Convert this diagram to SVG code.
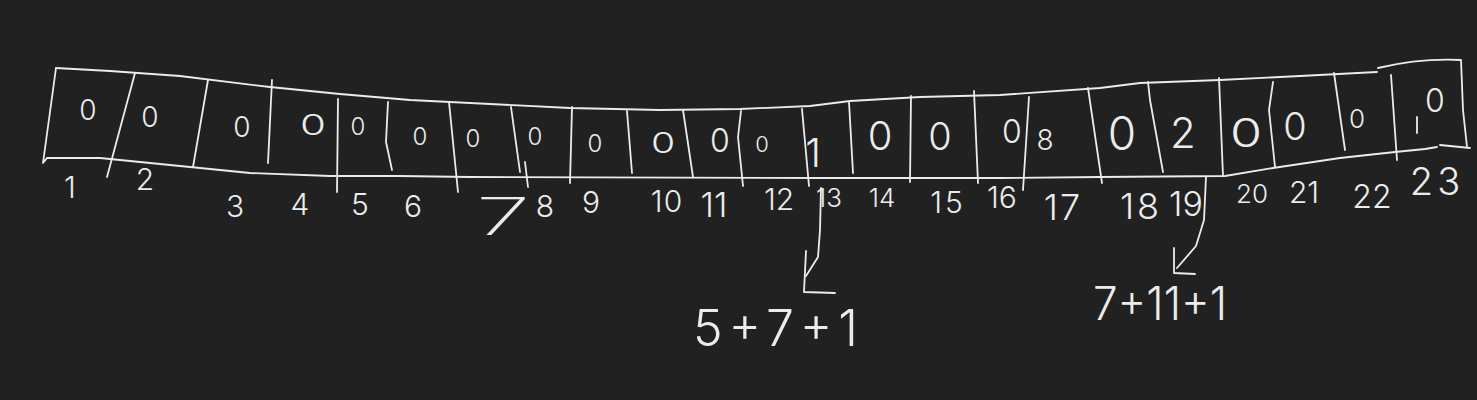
<svg xmlns="http://www.w3.org/2000/svg" width="1477" height="400" viewBox="0 0 1477 400">
<style>
.s{fill:none;stroke:#ececec;stroke-width:1.8;stroke-linecap:round;stroke-linejoin:round}
.v,.i,.e{font-family:Inter,"Liberation Sans",Arial,sans-serif;font-weight:300;fill:#ececec}
.v{text-anchor:middle;font-size:28px}
.i{text-anchor:middle;font-size:30px}
.e{font-size:50px}
</style>
<rect width="1477" height="400" fill="#212121"/>
<g id="array-outline">
<path class="s" d="M56,68 L110,71 L180,76 L270,87 L340,94 L410,100 L470,103 L570,108 L660,110 L740,109 L810,106 L850,101 L920,97 L1000,95 L1100,88 L1140,83 L1220,80 L1300,76 L1377,72"/>
<path class="s" d="M1378,68 Q1420,58 1461,60 L1463,110 L1467,147"/>
<path class="s" d="M1440,145 L1470,148"/>
<path class="s" d="M56,68 L43,163 L47,158 L100,158 L170,165 L250,173 L330,176 L400,176 L470,177 L820,178 L1000,178 L1100,177 L1225,176 L1273,168 L1340,158 L1395,152 L1425,149 L1437,147"/>
</g>
<g id="cell-1"><path class="s" d="M135,73 L107,177"/><text class="v" x="88" y="120">0</text><text class="i" x="70" y="198">1</text></g>
<g id="cell-2"><path class="s" d="M208,80 L193,167"/><text class="v" x="150" y="127">0</text><text class="i" x="145" y="190">2</text></g>
<g id="cell-3"><path class="s" d="M272,80 L268,163"/><text class="v" x="242" y="137">0</text><text class="i" x="235" y="217">3</text></g>
<g id="cell-4"><path class="s" d="M338,99 L337,192"/><text class="v" x="313" y="135" transform="translate(313,0) scale(1.5,1) translate(-313,0)">0</text><text class="i" x="300" y="215">4</text></g>
<g id="cell-5"><path class="s" d="M388,102 L386,142 L392,170"/><text class="v" x="358" y="135" style="font-size:24px">0</text><text class="i" x="360" y="215">5</text></g>
<g id="cell-6"><path class="s" d="M449,102 L458,192"/><text class="v" x="420" y="145" style="font-size:24px">0</text><text class="i" x="413" y="217">6</text></g>
<g id="cell-7"><path class="s" d="M511,107 L520,172 M525,162 L528,187"/><text class="v" x="473" y="147" style="font-size:24px">0</text><text class="i" transform="translate(503,235) scale(1.9,1)" x="0" y="0" style="font-size:52px;font-weight:200">7</text></g>
<g id="cell-8"><path class="s" d="M572,107 L570,183"/><text class="v" x="535" y="145" style="font-size:24px">0</text><text class="i" x="545" y="217">8</text></g>
<g id="cell-9"><path class="s" d="M627,111 L632,173"/><text class="v" x="595" y="152" style="font-size:24px">0</text><text class="i" x="591" y="213">9</text></g>
<g id="cell-10"><path class="s" d="M683,110 L693,177"/><text class="v" x="663" y="153" transform="translate(663,0) scale(1.4,1) translate(-663,0)">0</text><text class="i" x="667" y="212" style="letter-spacing:1px">10</text></g>
<g id="cell-11"><path class="s" d="M741,111 L738,137 L743,186"/><text class="v" x="720" y="152" style="font-size:32px">0</text><text class="i" x="714" y="217" style="font-size:34px">11</text></g>
<g id="cell-12"><path class="s" d="M802,109 L809,186"/><text class="v" x="762" y="152" style="font-size:22px">0</text><text class="i" x="779" y="210">12</text></g>
<g id="cell-13"><path class="s" d="M849,102 L853,173"/><text class="v" x="813" y="167" style="font-size:40px">1</text><text class="i" x="829" y="207" style="font-size:26px">13</text></g>
<g id="cell-14"><path class="s" d="M911,96 L910,182"/><text class="v" x="880" y="150" style="font-size:40px">0</text><text class="i" x="882" y="207" style="font-size:26px">14</text></g>
<g id="cell-15"><path class="s" d="M974,91 L978,183"/><text class="v" x="940" y="150" style="font-size:38px">0</text><text class="i" x="948" y="213" style="letter-spacing:3px">15</text></g>
<g id="cell-16"><path class="s" d="M1029,97 L1023,190"/><text class="v" x="1012" y="143" style="font-size:32px">0</text><text class="i" x="1002" y="208">16</text></g>
<g id="cell-17"><path class="s" d="M1088,88 L1102,183"/><text class="v" x="1045" y="150">8</text><text class="i" x="1063" y="220" style="font-size:36px;letter-spacing:2px">17</text></g>
<g id="cell-18"><path class="s" d="M1148,82 L1150,100 L1163,172"/><text class="v" x="1122" y="150" style="font-size:46px">0</text><text class="i" x="1141" y="219" style="font-size:36px;letter-spacing:3px">18</text></g>
<g id="cell-19"><path class="s" d="M1219,78 L1223,176"/><text class="v" x="1183" y="148" style="font-size:42px">2</text><text class="i" x="1186" y="216" style="font-size:34px">19</text></g>
<g id="cell-20"><path class="s" d="M1273,82 L1269,110 L1275,167"/><text class="v" x="1246" y="147" transform="translate(1246,0) scale(1.3,1) translate(-1246,0)" style="font-size:40px">0</text><text class="i" x="1252" y="203" style="font-size:26px">20</text></g>
<g id="cell-21"><path class="s" d="M1334,73 L1345,150"/><text class="v" x="1295" y="140" style="font-size:38px">0</text><text class="i" x="1304" y="203">21</text></g>
<g id="cell-22"><path class="s" d="M1391,75 L1397,160"/><text class="v" x="1357" y="128" style="font-size:26px">0</text><text class="i" x="1372" y="208" style="font-size:32px">22</text></g>
<g id="cell-23"><path class="s" d="M1417,117 L1417,133"/><text class="v" x="1435" y="112" style="font-size:32px">0</text><text class="i" x="1437" y="195" style="font-size:38px;letter-spacing:4px">23</text></g>
<g id="connectors">
<path class="s" d="M821,188 L820,230 L818,257 L806,276"/>
<path class="s" d="M806,251 L804,292 L835,293"/>
<path class="s" d="M1206,177 L1204,220 L1196,246 L1177,268"/>
<path class="s" d="M1174,248 L1174,273 L1195,274"/>
</g>
<g id="expr-13"><text class="e" x="693" y="346" textLength="165" lengthAdjust="spacing">5+7+1</text></g>
<g id="expr-19"><text class="e" x="1093" y="320" style="font-size:46px" textLength="134" lengthAdjust="spacingAndGlyphs">7+11+1</text></g>
</svg>
